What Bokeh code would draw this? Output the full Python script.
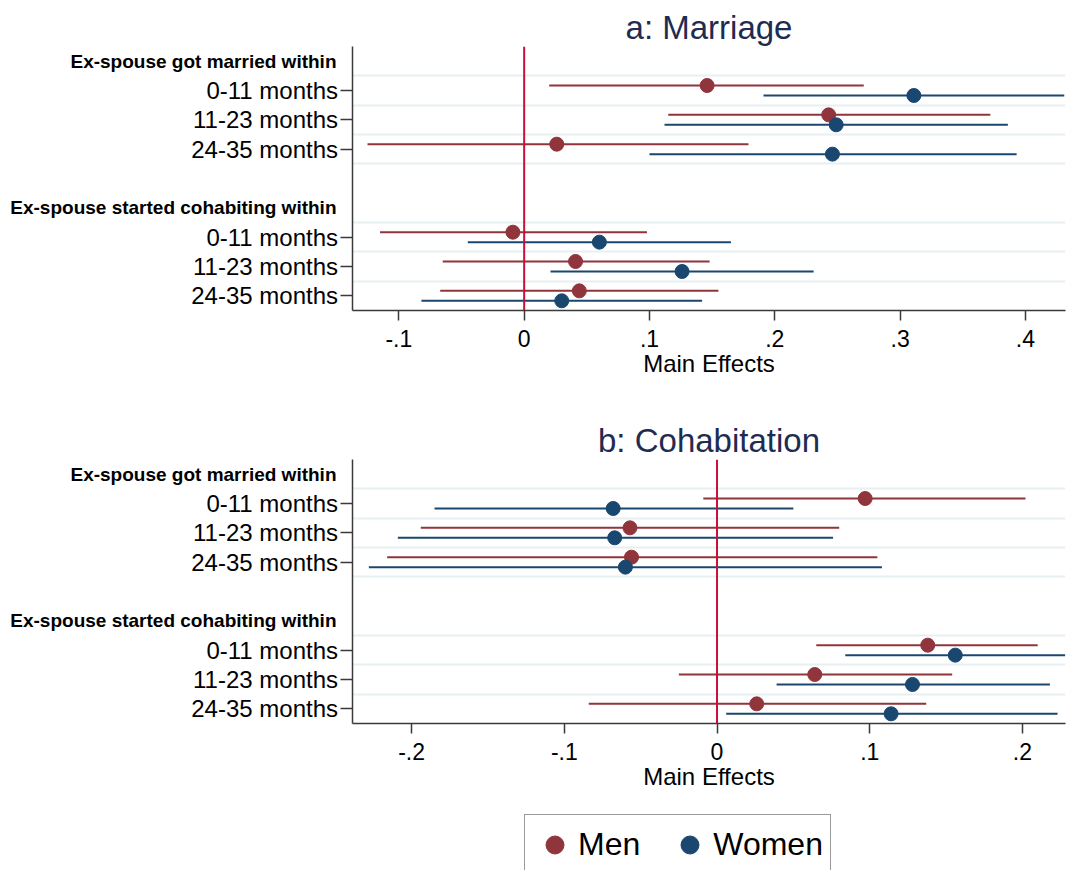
from bokeh.plotting import figure, gridplot
from bokeh.models import Range1d, FixedTicker, Span, Legend, LegendItem, ColumnDataSource
from bokeh.core.properties import value
from bokeh.embed import file_html
from bokeh.resources import INLINE

# ---------------- data ----------------
groups = ["Ex-spouse got married within", "Ex-spouse started cohabiting within"]
rows = ["0-11 months", "11-23 months", "24-35 months"]

# a: Marriage  (order: married 0-11, 11-23, 24-35, cohab 0-11, 11-23, 24-35)
men_a_est = [0.146, 0.243, 0.026, -0.009, 0.041, 0.044]
men_a_lo = [0.020, 0.115, -0.125, -0.115, -0.065, -0.067]
men_a_hi = [0.271, 0.372, 0.179, 0.098, 0.148, 0.155]
women_a_est = [0.311, 0.249, 0.246, 0.060, 0.126, 0.030]
women_a_lo = [0.191, 0.112, 0.100, -0.045, 0.021, -0.082]
women_a_hi = [0.431, 0.386, 0.393, 0.165, 0.231, 0.142]

# b: Cohabitation
men_b_est = [0.097, -0.057, -0.056, 0.138, 0.064, 0.026]
men_b_lo = [-0.009, -0.194, -0.216, 0.065, -0.025, -0.084]
men_b_hi = [0.202, 0.080, 0.105, 0.210, 0.154, 0.137]
women_b_est = [-0.068, -0.067, -0.060, 0.156, 0.128, 0.114]
women_b_lo = [-0.185, -0.209, -0.228, 0.084, 0.039, 0.006]
women_b_hi = [0.050, 0.076, 0.108, 0.228, 0.218, 0.223]

ticks_a = [-0.1, 0.0, 0.1, 0.2, 0.3, 0.4]
tick_labels_a = ["-.1", "0", ".1", ".2", ".3", ".4"]
ticks_b = [-0.2, -0.1, 0.0, 0.1, 0.2]
tick_labels_b = ["-.2", "-.1", "0", ".1", ".2"]

series_names = ["Men", "Women"]

# ---------------- style ----------------
MEN = "#90353b"
WOMEN = "#1a476f"
ZERO = "#c8103a"
GRID = "#e8eff2"
AXIS = "#3a3a3a"
TITLE = "#1f2c52"
FONT = "Liberation Sans"

# category slots (1 = top): header, 3 rows, blank, header, 3 rows
header_slots = [1, 6]
row_slots = [2, 3, 4, 7, 8, 9]
row_labels = rows + rows
grid_slots = [1.5, 2.5, 3.5, 4.5, 6.5, 7.5, 8.5]
OFF = 0.17

LAB_W = 338          # width of the label strip on the left
TICK_BORDER = 14     # room for y ticks between label strip and frame
PLOT_W = 1066 - LAB_W


def make_labels(height, bottom):
    q = figure(width=LAB_W, height=height, x_range=Range1d(0, LAB_W), y_range=Range1d(9.5, 0.5),
               x_axis_type=None, y_axis_type=None, output_backend="svg", toolbar_location=None,
               min_border_left=0, min_border_right=0, min_border_top=46, min_border_bottom=bottom)
    q.outline_line_color = None
    q.xgrid.visible = False
    q.ygrid.visible = False
    rsrc = ColumnDataSource(dict(x=[LAB_W - 0.5] * len(row_slots), y=row_slots, t=row_labels))
    q.text(x="x", y="y", text="t", source=rsrc, text_align="right", text_baseline="middle",
           text_font=value(FONT), text_font_size=value("24px"), text_color="black")
    hsrc = ColumnDataSource(dict(x=[LAB_W - 2] * len(header_slots), y=header_slots, t=groups))
    q.text(x="x", y="y", text="t", source=hsrc, text_align="right", text_baseline="middle",
           text_font=value(FONT), text_font_size=value("19px"), text_font_style="bold",
           text_color="black")
    return q


def make_panel(title, m_est, m_lo, m_hi, w_est, w_lo, w_hi, xr, ticks, tlabels, height, bottom):
    p = figure(width=PLOT_W, height=height, x_range=Range1d(*xr), y_range=Range1d(9.5, 0.5),
               output_backend="svg", toolbar_location=None, title=title,
               min_border_left=TICK_BORDER, min_border_right=1, min_border_top=46,
               min_border_bottom=bottom)
    p.outline_line_color = None
    p.background_fill_color = "white"
    p.border_fill_color = "white"

    p.title.text_font = FONT
    p.title.text_font_size = "33px"
    p.title.text_font_style = "normal"
    p.title.text_color = TITLE
    p.title.align = "center"
    p.title.standoff = 2

    # grid
    p.xgrid.visible = False
    p.ygrid.ticker = FixedTicker(ticks=grid_slots)
    p.ygrid.grid_line_color = GRID
    p.ygrid.grid_line_width = 2

    # y axis: line + ticks (labels live in the strip on the left)
    p.yaxis.ticker = FixedTicker(ticks=row_slots)
    p.yaxis.major_label_overrides = {s: "" for s in row_slots}
    p.yaxis.major_tick_out = 12
    p.yaxis.major_tick_in = 0
    p.yaxis.minor_tick_line_color = None
    p.yaxis.major_label_standoff = 0
    p.yaxis.axis_line_color = AXIS
    p.yaxis.axis_line_width = 1.5
    p.yaxis.major_tick_line_color = AXIS
    p.yaxis.major_tick_line_width = 1.5

    # x axis
    p.xaxis.ticker = FixedTicker(ticks=ticks)
    p.xaxis.major_label_overrides = {t: l for t, l in zip(ticks, tlabels)}
    p.xaxis.major_label_text_font = FONT
    p.xaxis.major_label_text_font_size = "23px"
    p.xaxis.major_label_text_color = "black"
    p.xaxis.major_tick_out = 10
    p.xaxis.major_tick_in = 0
    p.xaxis.minor_tick_line_color = None
    p.xaxis.major_label_standoff = 9
    p.xaxis.axis_line_color = AXIS
    p.xaxis.axis_line_width = 1.5
    p.xaxis.major_tick_line_color = AXIS
    p.xaxis.major_tick_line_width = 1.5
    p.xaxis.axis_label = "Main Effects"
    p.xaxis.axis_label_text_font = FONT
    p.xaxis.axis_label_text_font_size = "24px"
    p.xaxis.axis_label_text_font_style = "normal"
    p.xaxis.axis_label_text_color = "black"
    p.xaxis.axis_label_standoff = 0

    # series
    for est, lo, hi, color, off in [(m_est, m_lo, m_hi, MEN, -OFF), (w_est, w_lo, w_hi, WOMEN, OFF)]:
        src = ColumnDataSource(dict(est=est, lo=lo, hi=hi, y=[s + off for s in row_slots]))
        p.segment(x0="lo", y0="y", x1="hi", y1="y", source=src, line_color=color, line_width=2)
        p.scatter(x="est", y="y", source=src, size=14, fill_color=color, line_color=color)

    p.add_layout(Span(location=0, dimension="height", line_color=ZERO, line_width=2))
    return p


la = make_labels(413, 103)
pa = make_panel("a: Marriage", men_a_est, men_a_lo, men_a_hi, women_a_est, women_a_lo, women_a_hi,
                (-0.137, 0.432), ticks_a, tick_labels_a, 413, 103)
lb = make_labels(387, 77)
pb = make_panel("b: Cohabitation", men_b_est, men_b_lo, men_b_hi, women_b_est, women_b_lo, women_b_hi,
                (-0.2387, 0.2282), ticks_b, tick_labels_b, 387, 77)

# legend strip (frame starts at x = 352)
pl = figure(width=PLOT_W, height=70, x_axis_type=None, y_axis_type=None, toolbar_location=None,
            output_backend="svg", min_border_left=TICK_BORDER, min_border_right=1,
            min_border_top=0, min_border_bottom=0,
            x_range=Range1d(0, 1), y_range=Range1d(0, 1))
pl.outline_line_color = None
pl.xgrid.visible = False
pl.ygrid.visible = False
# legend proxies (placed outside the visible range)
r_m = pl.scatter(x=[-1], y=[-1], fill_color=MEN, line_color=MEN, size=18)
r_w = pl.scatter(x=[-1], y=[-1], fill_color=WOMEN, line_color=WOMEN, size=18)
legend = Legend(items=[LegendItem(label=series_names[0], renderers=[r_m]),
                       LegendItem(label=series_names[1], renderers=[r_w])],
                orientation="horizontal", location=(524 - LAB_W - TICK_BORDER, -5),
                glyph_width=45, glyph_height=45, label_height=45, padding=7,
                label_standoff=1, spacing=27,
                label_text_font=FONT, label_text_font_size="32px", label_text_color="black",
                border_line_color="#333333", border_line_width=1.5,
                background_fill_color="white", background_fill_alpha=1.0)
pl.add_layout(legend)

grid = gridplot([[la, pa], [lb, pb], [None, pl]], toolbar_location=None)
open("out.html", "w").write(file_html(grid, INLINE))
